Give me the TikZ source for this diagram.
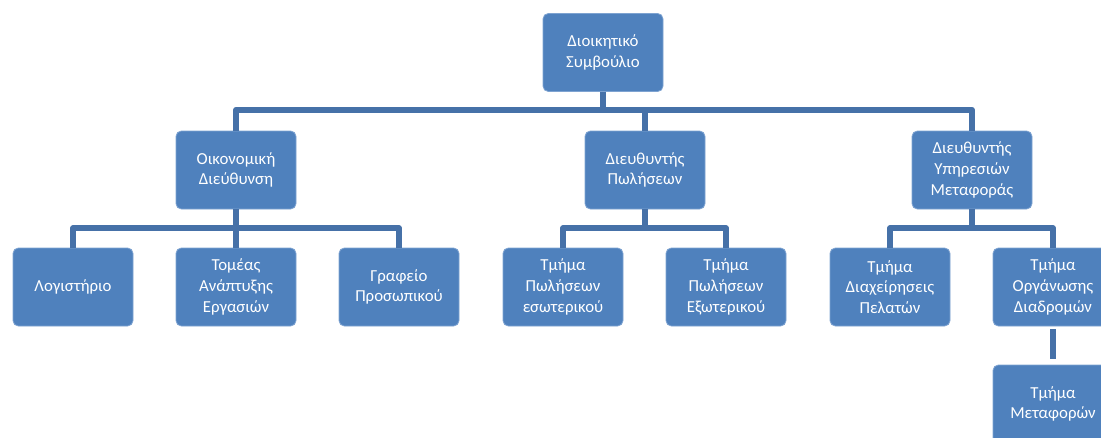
\documentclass[tikz,border=0pt]{standalone}
\usepackage{fontspec}
\setmainfont{Carlito}
\definecolor{boxblue}{HTML}{4F81BD}
\definecolor{boxedge}{HTML}{7EA3D1}
\definecolor{linkblue}{HTML}{4671A8}
\begin{document}
\begin{tikzpicture}[x=0.75pt,y=-0.75pt,
  box/.style={rectangle,rounded corners=4pt,fill=boxblue,draw=boxedge,line width=0.6pt,
    minimum width=90pt,minimum height=58.5pt,inner sep=2pt,text=white,align=center,
    font=\fontsize{12.6}{15.5}\selectfont},
  conn/.style={draw=linkblue,line width=4.5pt,line join=round}]
\useasboundingbox (0,0) rectangle (1101,437);
\clip (0,0) rectangle (1101,437);
% nodes
\node[box] (top) at (603,52.5) {Διοικητικό\\Συμβούλιο};
\node[box] (fin) at (236,170) {Οικονομική\\Διεύθυνση};
\node[box] (sal) at (645,170) {Διευθυντής\\Πωλήσεων};
\node[box] (tra) at (972,170) {Διευθυντής\\Υπηρεσιών\\Μεταφοράς};
\node[box] (log) at (73,287) {Λογιστήριο};
\node[box] (dev) at (236,287) {Τομέας\\Ανάπτυξης\\Εργασιών};
\node[box] (per) at (399,287) {Γραφείο\\Προσωπικού};
\node[box] (sin) at (563,287) {Τμήμα\\Πωλήσεων\\εσωτερικού};
\node[box] (sex) at (726,287) {Τμήμα\\Πωλήσεων\\Εξωτερικού};
\node[box] (cus) at (890,287) {Τμήμα\\Διαχείρησεις\\Πελατών};
\node[box] (rou) at (1053,287) {Τμήμα\\Οργάνωσης\\Διαδρομών};
\node[box] (mov) at (1053,404) {Τμήμα\\Μεταφορών};
% connectors
\foreach \c in {fin,sal,tra} \draw[conn] (top.south) -- ++(0,18) -| (\c.north);
\foreach \c in {log,dev,per} \draw[conn] (fin.south) -- ++(0,19) -| (\c.north);
\foreach \c in {sin,sex} \draw[conn] (sal.south) -- ++(0,19) -| (\c.north);
\foreach \c in {cus,rou} \draw[conn] (tra.south) -- ++(0,19) -| (\c.north);
\draw[conn] ([yshift=-2pt]rou.south) -- ([yshift=4pt]mov.north);
\end{tikzpicture}
\end{document}
